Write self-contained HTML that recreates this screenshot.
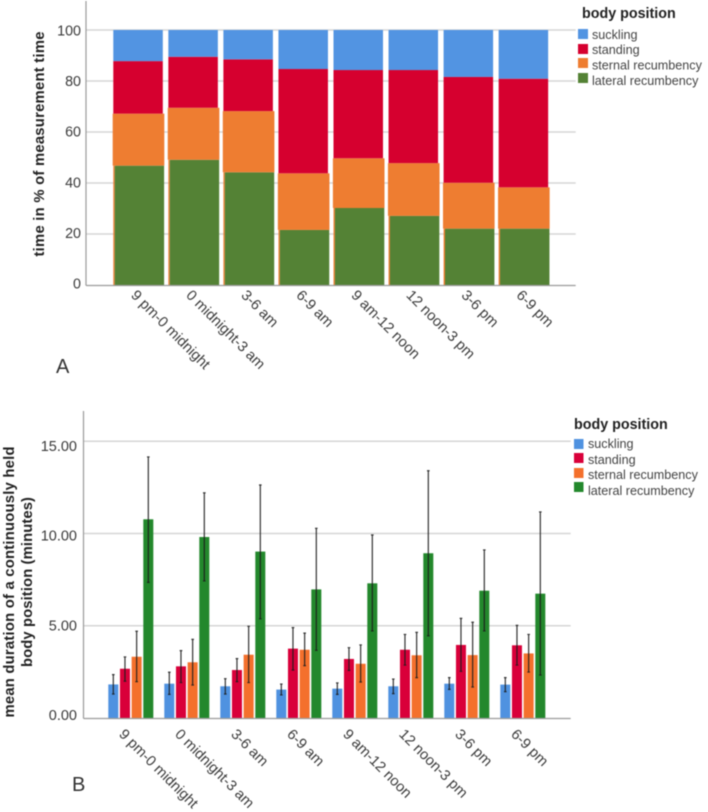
<!DOCTYPE html>
<html lang="en">
<head>
<meta charset="utf-8">
<title>Body position charts</title>
<style>
html,body{margin:0;padding:0;background:#fff;width:708px;height:812px;overflow:hidden}
svg{display:block;filter:blur(0.45px)}
text{font-family:"Liberation Sans",sans-serif;fill:#3a3a3a}
.tick{font-size:14.6px}
.leg{font-size:12.6px;fill:#444}
.title{font-size:14.3px;font-weight:bold;fill:#222}
.ytitle{font-size:14.8px;font-weight:bold;fill:#222}
.panel{font-size:20px;fill:#333}
</style>
</head>
<body>
<svg id="chart" xmlns="http://www.w3.org/2000/svg" width="708" height="812" viewBox="0 0 708 812">
  <rect width="708" height="812" fill="#fff"/>
  <g id="a"></g>
  <g id="b"></g>

  <text class="ytitle" transform="translate(44,144) rotate(-90)" text-anchor="middle" textLength="225" lengthAdjust="spacing">time in % of measurement time</text>
  <text class="panel" x="56" y="373">A</text>
  <text class="title" x="582" y="18">body position</text>
  <g>
    <rect x="578" y="29" width="10" height="10" fill="#5294e2"/>
    <rect x="578" y="44" width="10" height="10" fill="#d6002f"/>
    <rect x="578" y="58" width="10" height="10" fill="#ee7d31"/>
    <rect x="578" y="73" width="10" height="10" fill="#548235"/>
    <text class="leg" x="592" y="39">suckling</text>
    <text class="leg" x="592" y="54">standing</text>
    <text class="leg" x="592" y="69.5">sternal recumbency</text>
    <text class="leg" x="592" y="85">lateral recumbency</text>
  </g>

  <text class="ytitle" transform="translate(14,582) rotate(-90)" text-anchor="middle" textLength="271" lengthAdjust="spacing">mean duration of a continuously held</text>
  <text class="ytitle" transform="translate(32,582) rotate(-90)" text-anchor="middle" textLength="170" lengthAdjust="spacing">body position  (minutes)</text>
  <text class="panel" x="72" y="791">B</text>
  <text class="title" x="574" y="429">body position</text>
  <g>
    <rect x="574" y="439" width="9.5" height="10" fill="#4f92e0"/>
    <rect x="574" y="453" width="9.5" height="10" fill="#d9003a"/>
    <rect x="574" y="468" width="9.5" height="10" fill="#f4702c"/>
    <rect x="574" y="482" width="9.5" height="10" fill="#23882c"/>
    <text class="leg" x="588" y="448">suckling</text>
    <text class="leg" x="588" y="464">standing</text>
    <text class="leg" x="588" y="479">sternal recumbency</text>
    <text class="leg" x="588" y="495">lateral recumbency</text>
  </g>
</svg>
<script>
var categories = ["9 pm-0 midnight","0 midnight-3 am","3-6 am","6-9 am","9 am-12 noon","12 noon-3 pm","3-6 pm","6-9 pm"];
var seriesNames = ["lateral","sternal","standing","suckling"];

// Chart A: share of measurement time (%)
var shareLateral = [46.8,49.1,44.2,21.6,30.2,27.1,22.1,22.1];
var shareSternal = [20.4,20.4,24.0,22.2,19.5,20.7,18.0,16.2];
var shareStanding = [20.6,20.0,20.3,40.9,34.6,36.5,41.5,42.6];
var shareSuckling = [12.2,10.5,11.5,15.3,15.7,15.7,18.4,19.1];
var ticksA = [0,20,40,60,80,100];

// Chart B: mean duration (minutes) with error limits
var meanSuckling = [1.82,1.86,1.72,1.54,1.59,1.72,1.86,1.81];
var lowSuckling = [1.30,1.28,1.30,1.25,1.28,1.32,1.55,1.43];
var highSuckling = [2.35,2.48,2.13,1.84,1.90,2.11,2.19,2.19];
var meanStanding = [2.67,2.80,2.60,3.76,3.20,3.70,3.96,3.94];
var lowStanding = [2.00,1.92,1.97,2.60,2.58,2.87,2.53,2.87];
var highStanding = [3.31,3.65,3.22,4.90,3.81,4.53,5.40,5.02];
var meanSternal = [3.32,3.02,3.43,3.70,2.94,3.40,3.41,3.50];
var lowSternal = [1.97,1.79,1.92,2.84,1.95,2.19,1.68,2.49];
var highSternal = [4.70,4.26,4.97,4.60,3.96,4.64,5.19,4.53];
var meanLateral = [10.77,9.81,9.02,6.97,7.30,8.93,6.90,6.74];
var lowLateral = [7.35,7.43,5.38,3.67,4.72,4.46,4.72,2.33];
var highLateral = [14.15,12.20,12.63,10.28,9.92,13.40,9.11,11.17];
var ticksB = [0,5,10,15];

var NS = "http://www.w3.org/2000/svg";
function mk(parent, tag, attrs, txt) {
  var el = document.createElementNS(NS, tag);
  for (var k in attrs) el.setAttribute(k, attrs[k]);
  if (txt !== undefined) el.textContent = txt;
  parent.appendChild(el);
  return el;
}

/* ---------- Chart A ---------- */
var gA = document.getElementById("a");
function yA(v) { return 285 - v * 2.55; }
function yLabelA(v) { return 288.3 - v * 2.526; }
function xA(i) { return 138.3 + i * 55.05; }
var stackA = [shareLateral, shareSternal, shareStanding, shareSuckling];
var colorsA = ["#548235","#ee7d31","#d6002f","#5294e2"];
var leftA = [-23.6,-25.6,-25,-25];
var widthA = [49.4,51.6,49.5,49.5];

ticksA.forEach(function (t) {
  if (t > 0) {
    var line = mk(gA, "line", {x1:86, x2:575.7, y1:yA(t), y2:yA(t), stroke:"#d6d6d6", "stroke-width":1.4});
    
    
  }
  var label = mk(gA, "text", {class:"tick", style:"font-size:14.3px", x:81, y:yLabelA(t), "text-anchor":"end"}, String(t));
  
  
});

categories.forEach(function (c, i) {
  var sliver = mk(gA, "rect", {x:xA(i) - 25, y:yA(shareLateral[i]), width:1.4, height:285 - yA(shareLateral[i]), fill:"#ee7d31"});
  
  
  var base = 0;
  stackA.forEach(function (vals, s) {
    var top = base + vals[i];
    var bar = mk(gA, "rect", {x:xA(i) + leftA[s], y:yA(top), width:widthA[s], height:yA(base) - yA(top), fill:colorsA[s]});
    
    
    base = top;
  });
  var lab = mk(gA, "text", {class:"tick", x:0, y:0, transform:"translate(" + (xA(i) - 8) + ",296) rotate(45)"}, c);
  
  
});

var axA1 = mk(gA, "line", {x1:86, x2:86, y1:1, y2:285.5, stroke:"#9a9a9a", "stroke-width":1.2});


var axA2 = mk(gA, "line", {x1:86, x2:575.7, y1:285.5, y2:285.5, stroke:"#9a9a9a", "stroke-width":1.2});



/* ---------- Chart B ---------- */
var gB = document.getElementById("b");
function yB(v) { return 718 - v * 18.45; }
function yLabelB(v) { return 720 - v * 17.95; }
function xB(i) { return 108.3 + i * 56; }
var seriesB = [
  {name:"suckling", m:meanSuckling, lo:lowSuckling, hi:highSuckling, color:"#4f92e0"},
  {name:"standing", m:meanStanding, lo:lowStanding, hi:highStanding, color:"#d9003a"},
  {name:"sternal", m:meanSternal, lo:lowSternal, hi:highSternal, color:"#f4702c"},
  {name:"lateral", m:meanLateral, lo:lowLateral, hi:highLateral, color:"#23882c"}
];

ticksB.forEach(function (t) {
  if (t > 0) {
    var line = mk(gB, "line", {x1:83.5, x2:570.7, y1:yB(t), y2:yB(t), stroke:"#d6d6d6", "stroke-width":1.4});
    
    
  }
  var label = mk(gB, "text", {class:"tick", style:"font-size:14.5px", x:77, y:yLabelB(t), "text-anchor":"end"}, t.toFixed(2));
  
  
});

categories.forEach(function (c, i) {
  seriesB.forEach(function (s, k) {
    var x = xB(i) + k * 11.67;
    var bar = mk(gB, "rect", {x:x, y:yB(s.m[i]), width:10, height:718 - yB(s.m[i]), fill:s.color});
    
    
    var cx = x + 5;
    var err = mk(gB, "path", {
      d:"M" + cx + " " + yB(s.hi[i]) + "V" + yB(s.lo[i]) +
        "M" + (cx - 1.3) + " " + yB(s.hi[i]) + "h2.6" +
        "M" + (cx - 1.3) + " " + yB(s.lo[i]) + "h2.6",
      stroke:"#1c1c1c", "stroke-width":1.2, fill:"none", "stroke-opacity":0.9
    });
    
    
  });
  var lab = mk(gB, "text", {class:"tick", x:0, y:0, transform:"translate(" + (xB(i) + 10) + ",735) rotate(45)"}, c);
  
  
});

var axB1 = mk(gB, "line", {x1:83.5, x2:83.5, y1:411, y2:718.5, stroke:"#9a9a9a", "stroke-width":1.2});


var axB2 = mk(gB, "line", {x1:83.5, x2:570.7, y1:718.5, y2:718.5, stroke:"#9a9a9a", "stroke-width":1.2});


</script>
</body>
</html>
